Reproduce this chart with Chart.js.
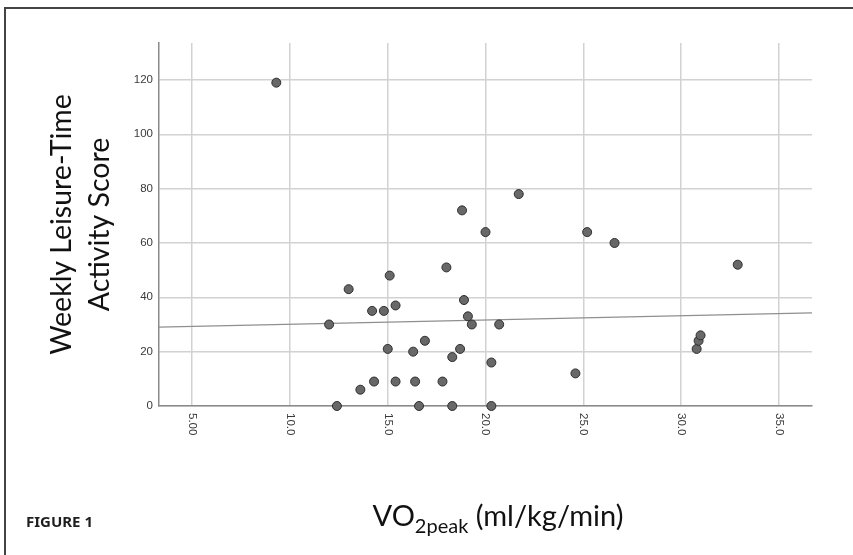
<!DOCTYPE html>
<html>
<head>
<meta charset="utf-8">
<script src="https://cdn.jsdelivr.net/npm/chart.js@4"></script>
<style>
  html, body { margin: 0; padding: 0; background: #fff; }
  canvas { display: block; }
</style>
</head>
<body>
<canvas id="fig" width="853" height="555"></canvas>
<script>
// VO2peak against weekly leisure-time activity score
const vo2peak = [9.3, 12.0, 12.4, 13.0, 13.6, 14.2, 14.3, 14.8, 15.0, 15.1, 15.4, 15.4, 16.3, 16.4, 16.6, 16.9, 17.8, 18.0, 18.3,
    18.3, 18.7, 18.8, 18.9, 19.1, 19.3, 20.0, 20.3, 20.3, 20.7, 21.7, 24.6, 25.2, 26.6, 30.8, 30.9, 31.0, 32.9];
const activityScore = [119, 30, 0, 43, 6, 35, 9, 35, 21, 48, 37, 9, 20, 9, 0, 24, 9, 51, 18,
    0, 21, 72, 39, 33, 30, 64, 16, 0, 30, 78, 12, 64, 60, 21, 24, 26, 52];

// fit line end points
const fitX = [3.3, 36.7];
const fitY = [29.0, 34.3];

const xTicks = [5, 10, 15, 20, 25, 30, 35];
const xTickLabels = ['5.00', '10.0', '15.0', '20.0', '25.0', '30.0', '35.0'];
const yTicks = [0, 20, 40, 60, 80, 100, 120];
const yTickLabels = ['0', '20', '40', '60', '80', '100', '120'];

const titleFont = 'Lato, "Open Sans", sans-serif';

// frame, tick labels and titles drawn by hand
const labelsPlugin = {
    id: 'labels',
    afterDraw(chart) {
        let ctx = chart.ctx;
        let xs = chart.scales.x, ys = chart.scales.y;
        ctx.save();

        // figure frame (left and top edge)
        ctx.strokeStyle = '#444';
        ctx.lineWidth = 2;
        ctx.beginPath();
        ctx.moveTo(5, 555);
        ctx.lineTo(5, 8);
        ctx.lineTo(853, 8);
        ctx.stroke();

        ctx.fillStyle = '#3a3a3a';
        ctx.font = '11.5px "Liberation Sans", Arial, sans-serif';

        // y tick labels
        ctx.textAlign = 'right';
        ctx.textBaseline = 'middle';
        yTicks.forEach((v, i) => {
            ctx.fillText(yTickLabels[i], xs.left - 6, ys.getPixelForValue(v));
        });

        // x tick labels, turned clockwise
        xTicks.forEach((v, i) => {
            ctx.save();
            ctx.translate(xs.getPixelForValue(v), ys.bottom + 7);
            ctx.rotate(Math.PI / 2);
            ctx.textAlign = 'left';
            ctx.textBaseline = 'middle';
            ctx.fillText(xTickLabels[i], 0, 0);
            ctx.restore();
        });

        // y title, two lines
        ctx.fillStyle = '#111';
        ctx.font = '28.5px ' + titleFont;
        ctx.save();
        ctx.translate(0, (ys.top + ys.bottom) / 2);
        ctx.rotate(-Math.PI / 2);
        ctx.textAlign = 'center';
        ctx.textBaseline = 'alphabetic';
        ctx.fillText('Weekly Leisure-Time', 0, 71);
        ctx.fillText('Activity Score', 0, 109);
        ctx.restore();

        // x title with subscript
        let cx = 498;
        let base = 526;
        ctx.textAlign = 'left';
        ctx.textBaseline = 'alphabetic';
        ctx.font = '29px ' + titleFont;
        let w1 = ctx.measureText('VO').width;
        let w3 = ctx.measureText(' (ml/kg/min)').width;
        ctx.font = '20px ' + titleFont;
        let w2 = ctx.measureText('2peak').width;
        let x0 = cx - (w1 + w2 + w3) / 2;
        ctx.font = '29px ' + titleFont;
        ctx.fillText('VO', x0, base);
        ctx.font = '20px ' + titleFont;
        ctx.fillText('2peak', x0 + w1, base + 7);
        ctx.font = '29px ' + titleFont;
        ctx.fillText(' (ml/kg/min)', x0 + w1 + w2, base);

        // caption
        ctx.fillStyle = '#1e1e1e';
        ctx.font = 'bold 15px "Noto Sans", "Open Sans", sans-serif';
        ctx.fillText('FIGURE 1', 26, 527);

        ctx.restore();
    }
};

new Chart(document.getElementById('fig').getContext('2d'), {
    type: 'scatter',
    data: {
        datasets: [{
            data: vo2peak.map((x, i) => ({ x: x, y: activityScore[i] })),
            backgroundColor: '#686868',
            borderColor: '#2e2e2e',
            borderWidth: 1,
            pointRadius: 4.5,
            clip: false,
            order: 1
        }, {
            type: 'line',
            data: fitX.map((x, i) => ({ x: x, y: fitY[i] })),
            borderColor: '#8f8f8f',
            borderWidth: 1.2,
            pointRadius: 0,
            fill: false,
            order: 2
        }]
    },
    options: {
        responsive: false,
        animation: false,
        events: [],
        layout: {
            padding: { left: 159, right: 41, top: 43, bottom: 149 }
        },
        plugins: {
            legend: { display: false },
            tooltip: { enabled: false }
        },
        scales: {
            x: {
                type: 'linear',
                min: 3.3,
                max: 36.7,
                afterBuildTicks: scale => { scale.ticks = xTicks.map(v => ({ value: v })); },
                ticks: { display: false },
                grid: { color: '#d2d2d2', lineWidth: 1.5, drawTicks: false },
                border: { color: '#8a8a8a', width: 1.5 }
            },
            y: {
                type: 'linear',
                min: 0,
                max: 133.6,
                afterBuildTicks: scale => { scale.ticks = yTicks.map(v => ({ value: v })); },
                ticks: { display: false },
                grid: { color: '#d2d2d2', lineWidth: 1.5, drawTicks: false },
                border: { color: '#8a8a8a', width: 1.5 }
            }
        }
    },
    plugins: [labelsPlugin]
});
</script>
</body>
</html>
